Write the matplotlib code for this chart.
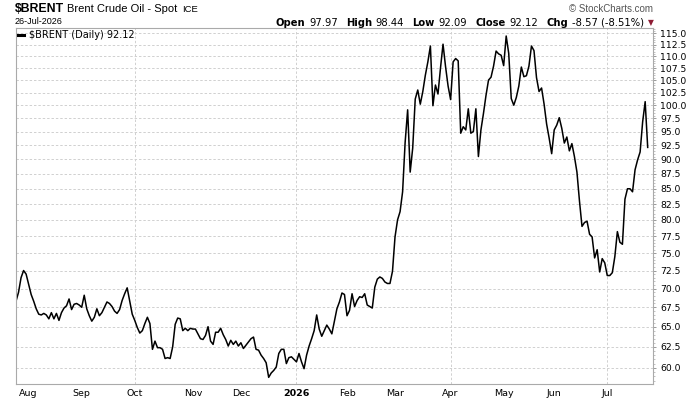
import matplotlib
matplotlib.use("Agg")
import matplotlib.pyplot as plt
import matplotlib.ticker as mticker
from matplotlib import font_manager
import numpy as np
import pandas as pd

# ICE Brent spot, daily closes (Jul 2025 - Jul 2026)
holidays = ["2025-09-01", "2025-11-27", "2025-12-25", "2026-01-01", "2026-01-19",
            "2026-02-16", "2026-04-03", "2026-05-25", "2026-06-19", "2026-07-03"]

brent = [
    # late Jul - Sep 2025
    68.3, 69.5, 71.5, 72.5, 72.0, 70.6, 69.2, 68.3, 67.3, 66.6,
    66.5, 66.7, 66.5, 66.0, 66.8, 66.0, 66.7, 65.8, 66.8, 67.4,
    67.7, 68.6, 67.2, 67.9, 68.0, 67.8, 67.5, 69.1, 67.3, 66.4,
    65.7, 66.2, 67.3, 66.4, 66.8, 67.5, 68.2, 68.0, 67.6, 67.0,
    66.7, 67.2, 68.4, 69.3, 70.1,
    # Oct - Nov
    68.3, 66.6, 65.8, 64.9, 64.2, 64.5, 65.4, 66.2, 65.4, 62.2,
    63.2, 62.4, 62.4, 62.2, 61.1, 61.2, 61.1, 62.5, 65.3, 66.1,
    66.0, 64.5, 64.8, 64.5, 64.8, 64.7, 64.7, 64.1, 63.5, 63.4,
    63.9, 65.0, 63.2, 62.8, 64.3, 64.3, 64.8, 64.0, 63.4, 62.6,
    63.3, 62.8, 63.2, 62.6,
    # Dec - Jan
    63.0, 62.3, 62.7, 63.1, 63.5, 63.7, 62.2, 62.1, 61.5, 61.1,
    60.6, 58.9, 59.4, 59.7, 60.1, 61.7, 62.2, 62.2, 60.5, 61.2,
    61.3, 61.0, 60.7, 61.7, 60.7, 59.9, 61.5, 62.6, 63.5, 64.5,
    66.5, 64.7, 63.8, 64.5, 65.2, 64.7, 64.1, 65.7, 67.3, 68.2,
    69.4, 69.2, 66.4, 67.1,
    # Feb - Jul 2026
    69.3, 67.6, 68.4, 68.9, 68.8, 69.3, 67.8, 67.6, 67.4, 70.2,
    71.3, 71.6, 71.4, 70.9, 70.7, 70.7, 72.4, 77.4, 80.0, 81.3,
    84.5, 93.0, 99.1, 87.8, 92.0, 101.2, 103.0, 100.2, 102.7, 106.0,
    108.8, 112.2, 99.9, 104.0, 102.2, 107.5, 112.6, 107.8, 103.8, 101.1,
    108.8, 109.5, 109.0, 94.7, 95.9, 95.3, 99.3, 94.7, 95.0, 99.3,
    90.5, 95.3, 98.4, 101.9, 105.0, 105.6, 107.9, 111.1, 110.5, 110.2,
    108.0, 114.4, 110.6, 101.3, 100.0, 101.5, 103.8, 107.7, 105.7, 105.9,
    107.9, 112.2, 111.2, 105.5, 102.7, 103.4, 100.2, 96.4, 93.8, 91.0,
    95.3, 96.2, 97.6, 95.6, 92.9, 94.0, 91.5, 92.8, 90.5, 87.8,
    83.0, 79.0, 79.6, 79.8, 77.8, 77.4, 74.3, 75.5, 72.3, 74.2,
    73.6, 71.8, 71.8, 72.2, 74.5, 78.2, 76.6, 76.3, 83.3, 85.0,
    85.0, 84.5, 88.2, 89.9, 91.3, 96.8, 100.69, 92.12,
]

day_open = 97.97
day_high = 98.44
day_low = 92.09
y_ticks = np.arange(60.0, 115.1, 2.5)

dates = pd.bdate_range(end="2026-07-24", periods=len(brent), freq="C", holidays=holidays)
x = np.arange(len(brent))

W, H = 700, 400
fig = plt.figure(figsize=(7, 4), dpi=100)
fig.patch.set_facecolor("white")
ax = fig.add_axes([16 / W, 1 - 383.5 / H, (653 - 16) / W, (383.5 - 28) / H])

ax.plot(x, brent, color="black", lw=1.1, label=r"\$BRENT (Daily) %.2f" % brent[-1])

ax.set_yscale("log")
ax.set_ylim(58.2, 116.2)
ax.set_xlim(0, len(brent) + 1.1)
ax.yaxis.set_major_locator(mticker.FixedLocator(y_ticks))
ax.yaxis.set_major_formatter(mticker.FormatStrFormatter("%.1f"))
ax.yaxis.set_minor_locator(mticker.FixedLocator(np.arange(58.5, 116.1, 0.5)))
ax.yaxis.set_minor_formatter(mticker.NullFormatter())
ax.yaxis.tick_right()
ax.tick_params(axis="y", which="major", length=2.2, width=0.7, color="#999999",
               pad=3, labelsize=6.7, labelcolor="black")
ax.tick_params(axis="y", which="minor", length=1.2, width=0.5, color="#aaaaaa")

# month labels at first trading day of each month
month_starts = [i for i in range(1, len(dates)) if dates[i].month != dates[i - 1].month]
labels = [str(dates[i].year) if dates[i].month == 1 else dates[i].strftime("%b")
          for i in month_starts]
ax.set_xticks(month_starts)
ax.set_xticklabels(labels)
ax.tick_params(axis="x", length=0, pad=4, labelsize=6.8)
for t in ax.get_xticklabels():
    if t.get_text().isdigit():
        t.set_fontweight("bold")

ax.yaxis.grid(True, which="major", color="#d0d0d0", lw=0.7, linestyle=(0, (2.5, 2)))
for i in month_starts:
    if dates[i].month in (1, 4, 7, 10):
        ax.axvline(i, color="#d0d0d0", lw=0.7, linestyle=(0, (2.5, 2)), zorder=0)

for s in ax.spines.values():
    s.set_color("#aaaaaa")
    s.set_linewidth(0.8)

leg = ax.legend(loc="upper left", bbox_to_anchor=(0, 1), frameon=False, fontsize=7,
                handlelength=0.6, handletextpad=0.5, borderaxespad=0.0, borderpad=0.25)
leg.get_lines()[0].set_linewidth(2.2)

# header
def px(xp, yp):
    return xp / W, 1 - yp / H

renderer = fig.canvas.get_renderer()
installed = {f.name for f in font_manager.fontManager.ttflist}
if "Liberation Sans Narrow" in installed:
    t = fig.text(*px(15, 9), r"\$BRENT", fontsize=10.5, fontweight="bold",
                 family="Liberation Sans Narrow", va="center", ha="left")
else:
    t = fig.text(*px(15, 9), r"\$BRENT", fontsize=8.8, fontweight="bold",
                 family="Liberation Sans", va="center", ha="left")
xl = 15 + t.get_window_extent(renderer).width + 3
t = fig.text(*px(xl, 9.5), "Brent Crude Oil - Spot", fontsize=8.0,
             family="Liberation Sans", va="center", ha="left")
xl += t.get_window_extent(renderer).width + 5
fig.text(*px(xl, 9.5), "ICE", fontsize=6.8, family="Liberation Sans",
         va="center", ha="left")
fig.text(*px(15, 22), "26-Jul-2026", fontsize=6.5, family="Liberation Sans",
         va="center", ha="left")
fig.text(*px(653, 8.5), "\u00a9 StockCharts.com", fontsize=7, color="#555555",
         family="Liberation Sans", va="center", ha="right")
fig.text(*px(651, 22.5), "\u25bc", fontsize=5.5, color="#8e1b33", va="center", ha="center")

chg = brent[-1] - brent[-2]
pct = chg / brent[-2] * 100
pieces = [("Open", True), ("%.2f" % day_open, False),
          ("High", True), ("%.2f" % day_high, False),
          ("Low", True), ("%.2f" % day_low, False),
          ("Close", True), ("%.2f" % brent[-1], False),
          ("Chg", True), ("%.2f (%.2f%%)" % (chg, pct), False)]
xr = 644.0
for txt, bold in reversed(pieces):
    t = fig.text(*px(xr, 22.5), txt, fontsize=7.2, fontweight="bold" if bold else "normal",
                 family="DejaVu Sans", va="center", ha="right")
    w = t.get_window_extent(renderer).width
    xr -= w + (4 if not bold else 8)

fig.savefig("out.png", dpi=100, facecolor="white")
